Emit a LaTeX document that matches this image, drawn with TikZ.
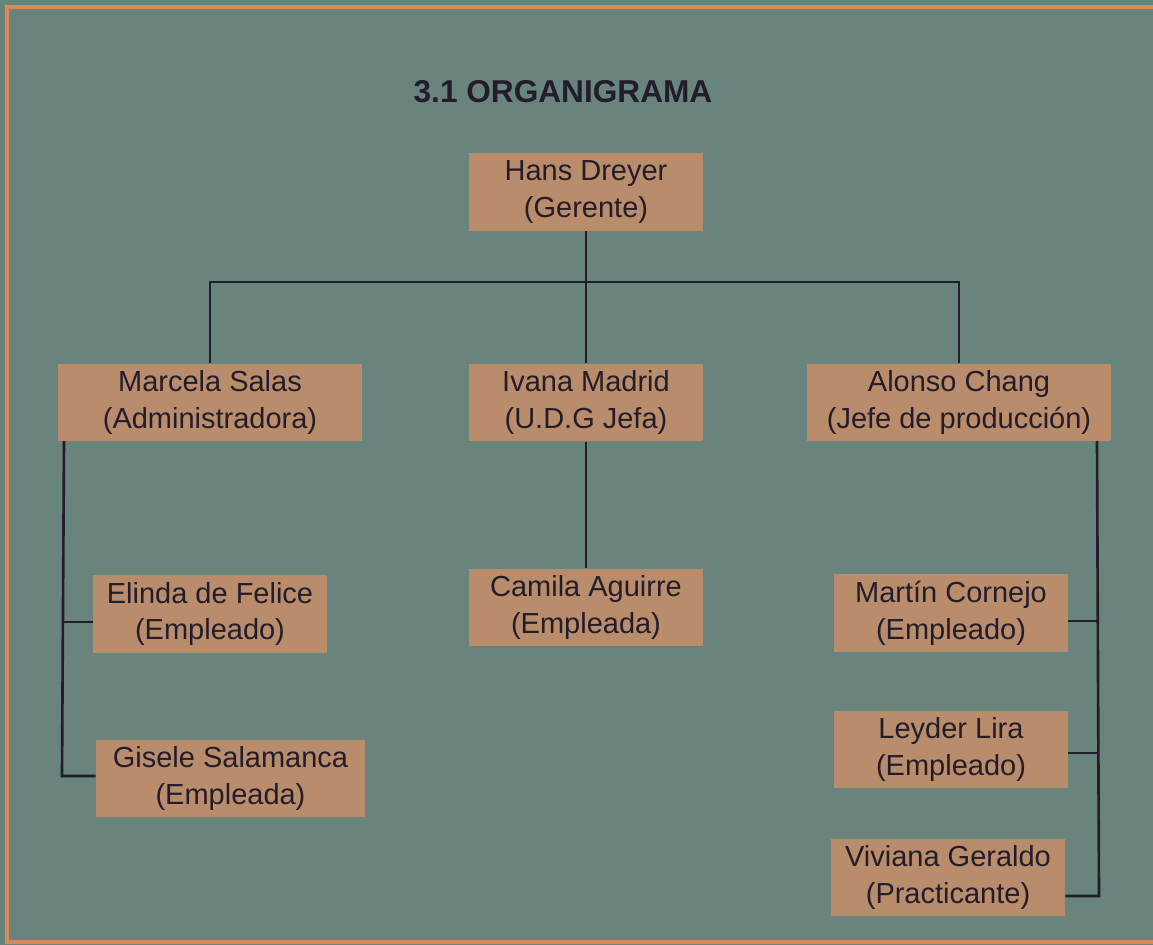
\documentclass[tikz,border=0pt]{standalone}
\usepackage{fontspec}
\setmainfont{Liberation Sans}
\definecolor{fondo}{HTML}{68847D}
\definecolor{caja}{HTML}{B98D6B}
\definecolor{marco}{HTML}{D98A5C}
\definecolor{tinta}{HTML}{231C2A}

\tikzset{%
  every node/.style={
    inner sep=1pt, text=tinta
  },
  puesto/.style={
    fill=caja, align=center, minimum width=4.68cm, minimum height=1.56cm,
    font=\fontsize{16.5}{21}\selectfont
  },
  ancho/.style={minimum width=6.08cm},
  rama/.style={draw=tinta, line width=1.5pt}
}

\begin{document}
\begin{tikzpicture}[x=0.02cm, y=-0.02cm]
        \fill[fondo] (0,0) rectangle (1153,945);
        \useasboundingbox (0,0) rectangle (1153,945);
        \draw[marco, line width=2pt] (1153,7) -- (7,7) -- (7,942) -- (1153,942);
        \node[font=\fontsize{18}{22}\selectfont\bfseries] (titulo) at (563,92) {3.1 ORGANIGRAMA};
        \node[puesto] (hans) at (586,192) {Hans Dreyer\\(Gerente)};
        \node[puesto, ancho] (marcela) at (210,402.5) {Marcela Salas\\(Administradora)};
        \node[puesto] (ivana) at (586,402.5) {Ivana Madrid\\(U.D.G Jefa)};
        \node[puesto, ancho] (alonso) at (959,402.5) {Alonso Chang\\(Jefe de producción)};
        \node[puesto] (elinda) at (210,614) {Elinda de Felice\\(Empleado)};
        \node[puesto, minimum width=5.38cm] (gisele) at (230.5,778.5) {Gisele Salamanca\\(Empleada)};
        \node[puesto] (camila) at (586,607.5) {Camila Aguirre\\(Empleada)};
        \node[puesto] (martin) at (951,613) {Martín Cornejo\\(Empleado)};
        \node[puesto] (leyder) at (951,749.5) {Leyder Lira\\(Empleado)};
        \node[puesto] (viviana) at (948,877.5) {Viviana Geraldo\\(Practicante)};
        \coordinate (bus) at (586,282);
        \coordinate (izq) at (64,441);
        \coordinate (izqb) at (62,776);
        \coordinate (der) at (1097,441);
        \coordinate (derb) at (1099,896);
        \draw[rama] (hans) -- (bus);
        \draw[rama] (marcela) |- (bus) -| (alonso);
        \draw[rama] (bus) -- (ivana);
        \draw[rama] (ivana) -- (camila);
        \draw[rama] (izq) -- (izqb) -- (gisele.west |- izqb);
        \draw[rama] (63,622) -- (elinda.west |- 63,622);
        \draw[rama] (der) -- (derb) -- (viviana.east |- derb);
        \draw[rama] (1098,621) -- (martin.east |- 1098,621);
        \draw[rama] (1098,753) -- (leyder.east |- 1098,753);
      \end{tikzpicture}
\end{document}
